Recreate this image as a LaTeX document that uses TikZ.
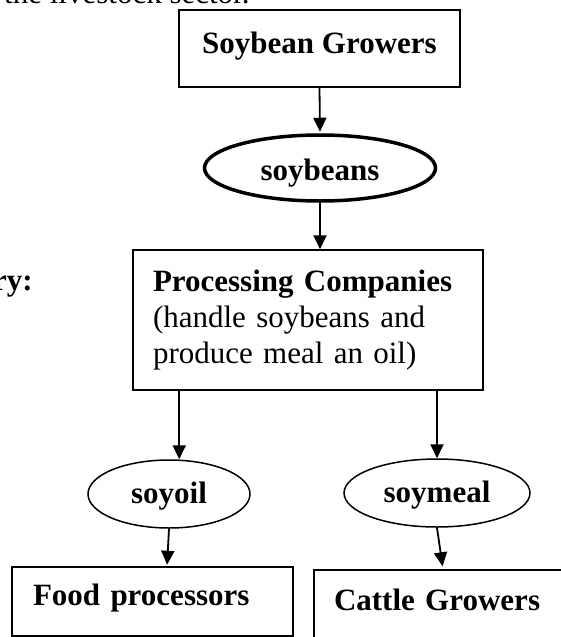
\documentclass[tikz,border=0pt]{standalone}
\usepackage{fontspec}
\setmainfont{Liberation Serif}
\usetikzlibrary{arrows.meta,shapes.geometric}
\newcommand\dgfont{\fontsize{31}{36}\selectfont}
\begin{document}
\begin{tikzpicture}[x=1pt,y=-1pt,
  plain/.style={font=\dgfont, inner sep=0pt},
  boldtext/.style={font=\dgfont\bfseries, inner sep=0pt},
  boxnode/.style={draw, rectangle, line width=1.5pt},
  oval/.style={boldtext, draw, ellipse, line width=1.5pt},
  arr/.style={line width=1.8pt, -{Triangle[width=13pt,length=14pt]}}]
\useasboundingbox (0,0) rectangle (560,637);

\node[plain, anchor=base west] (top) at (4,4) {the livestock sector.};
\node[boldtext, anchor=base east] (ry) at (33,290) {ry:};

\node[boldtext, boxnode, minimum width=281pt, minimum height=77pt,
      text height=20pt, text depth=11pt] (sg) at (319.5,48.5) {Soybean Growers};

\node[oval, line width=3.5pt, minimum width=231pt, minimum height=66pt,
      text height=24pt, text depth=0pt] (sb) at (320,168) {soybeans};

\node[plain, boxnode, minimum width=350pt, minimum height=140pt,
      text width=310pt, align=left, inner xsep=20pt] (pc) at (308,320)
  {\textbf{Processing Companies}\\(handle soybeans and\\produce meal an oil)};

\node[oval, minimum width=162pt, minimum height=68pt,
      text height=20pt, text depth=2pt] (so) at (169,494) {soyoil};
\node[oval, minimum width=186pt, minimum height=68pt,
      text height=20pt, text depth=2pt] (sm) at (437,493) {soymeal};

\node[boldtext, boxnode, minimum width=281pt, minimum height=69pt,
      text width=239pt, align=left, inner xsep=21pt,
      text height=20pt, text depth=13pt] (fp) at (152.5,601.5) {Food processors};
\node[boldtext, boxnode, minimum width=281pt, minimum height=69pt,
      text width=241pt, align=left, inner xsep=20pt,
      text height=21pt, text depth=10pt] (cg) at (454.5,604.5) {Cattle Growers};

\coordinate (pl) at ([xshift=47pt]pc.south west);

\draw[arr, shorten >=1.5pt] (sg.south) -- (sb.north);
\draw[arr] (sb.south) -- (sb.south |- pc.north);
\draw[arr] (pl) -- (pl |- so.north);
\draw[arr] (sm.north |- pc.south) -- (sm.north);
\draw[arr, shorten >=1.5pt] (so.south) -- ([xshift=-2pt]so.south |- fp.north);
\draw[arr, shorten >=3pt] (sm.south) -- ([xshift=6pt]sm.south |- cg.north);
\end{tikzpicture}
\end{document}
